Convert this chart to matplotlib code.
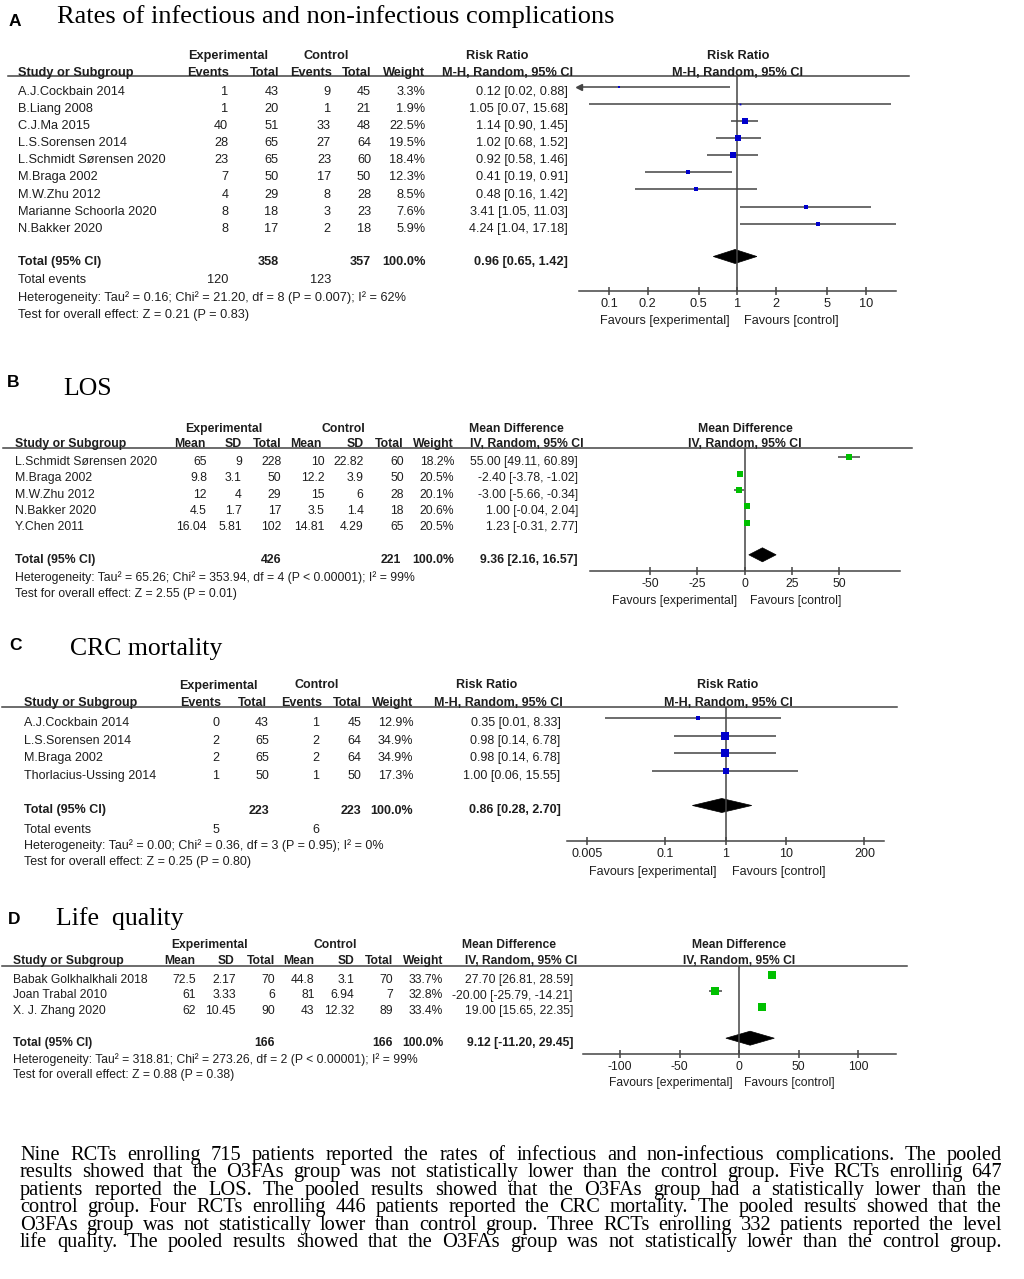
import numpy as np
import matplotlib
matplotlib.use("Agg")
import matplotlib.pyplot as plt
from matplotlib.patches import Polygon

# ---------------- data ----------------
# A: rates of infectious and non-infectious complications (risk ratio)
a_study = ["A.J.Cockbain 2014", "B.Liang 2008", "C.J.Ma 2015", "L.S.Sorensen 2014",
           "L.Schmidt Sørensen 2020", "M.Braga 2002", "M.W.Zhu 2012",
           "Marianne Schoorla 2020", "N.Bakker 2020"]
a_exp_ev = [1, 1, 40, 28, 23, 7, 4, 8, 8]
a_exp_n = [43, 20, 51, 65, 65, 50, 29, 18, 17]
a_ctl_ev = [9, 1, 33, 27, 23, 17, 8, 3, 2]
a_ctl_n = [45, 21, 48, 64, 60, 50, 28, 23, 18]
a_weight = [3.3, 1.9, 22.5, 19.5, 18.4, 12.3, 8.5, 7.6, 5.9]
a_est = [0.12, 1.05, 1.14, 1.02, 0.92, 0.41, 0.48, 3.41, 4.24]
a_lo = [0.02, 0.07, 0.90, 0.68, 0.58, 0.19, 0.16, 1.05, 1.04]
a_hi = [0.88, 15.68, 1.45, 1.52, 1.46, 0.91, 1.42, 11.03, 17.18]
a_total = [358, 357]
a_events = [120, 123]
a_pooled = [0.96, 0.65, 1.42]
a_het = "Heterogeneity: Tau² = 0.16; Chi² = 21.20, df = 8 (P = 0.007); I² = 62%"
a_test = "Test for overall effect: Z = 0.21 (P = 0.83)"
a_ticks = [0.1, 0.2, 0.5, 1, 2, 5, 10]

# B: LOS (mean difference)
b_study = ["L.Schmidt Sørensen 2020", "M.Braga 2002", "M.W.Zhu 2012", "N.Bakker 2020", "Y.Chen 2011"]
b_exp_mean = [65, 9.8, 12, 4.5, 16.04]
b_exp_sd = [9, 3.1, 4, 1.7, 5.81]
b_exp_n = [228, 50, 29, 17, 102]
b_ctl_mean = [10, 12.2, 15, 3.5, 14.81]
b_ctl_sd = [22.82, 3.9, 6, 1.4, 4.29]
b_ctl_n = [60, 50, 28, 18, 65]
b_weight = [18.2, 20.5, 20.1, 20.6, 20.5]
b_est = [55.00, -2.40, -3.00, 1.00, 1.23]
b_lo = [49.11, -3.78, -5.66, -0.04, -0.31]
b_hi = [60.89, -1.02, -0.34, 2.04, 2.77]
b_total = [426, 221]
b_pooled = [9.36, 2.16, 16.57]
b_het = "Heterogeneity: Tau² = 65.26; Chi² = 353.94, df = 4 (P < 0.00001); I² = 99%"
b_test = "Test for overall effect: Z = 2.55 (P = 0.01)"
b_ticks = [-50, -25, 0, 25, 50]

# C: CRC mortality (risk ratio)
c_study = ["A.J.Cockbain 2014", "L.S.Sorensen 2014", "M.Braga 2002", "Thorlacius-Ussing 2014"]
c_exp_ev = [0, 2, 2, 1]
c_exp_n = [43, 65, 65, 50]
c_ctl_ev = [1, 2, 2, 1]
c_ctl_n = [45, 64, 64, 50]
c_weight = [12.9, 34.9, 34.9, 17.3]
c_est = [0.35, 0.98, 0.98, 1.00]
c_lo = [0.01, 0.14, 0.14, 0.06]
c_hi = [8.33, 6.78, 6.78, 15.55]
c_total = [223, 223]
c_events = [5, 6]
c_pooled = [0.86, 0.28, 2.70]
c_het = "Heterogeneity: Tau² = 0.00; Chi² = 0.36, df = 3 (P = 0.95); I² = 0%"
c_test = "Test for overall effect: Z = 0.25 (P = 0.80)"
c_ticks = [0.005, 0.1, 1, 10, 200]

# D: life quality (mean difference)
d_study = ["Babak Golkhalkhali 2018", "Joan Trabal 2010", "X. J. Zhang 2020"]
d_exp_mean = [72.5, 61, 62]
d_exp_sd = [2.17, 3.33, 10.45]
d_exp_n = [70, 6, 90]
d_ctl_mean = [44.8, 81, 43]
d_ctl_sd = [3.1, 6.94, 12.32]
d_ctl_n = [70, 7, 89]
d_weight = [33.7, 32.8, 33.4]
d_est = [27.70, -20.00, 19.00]
d_lo = [26.81, -25.79, 15.65]
d_hi = [28.59, -14.21, 22.35]
d_total = [166, 166]
d_pooled = [9.12, -11.20, 29.45]
d_het = "Heterogeneity: Tau² = 318.81; Chi² = 273.26, df = 2 (P < 0.00001); I² = 99%"
d_test = "Test for overall effect: Z = 0.88 (P = 0.38)"
d_ticks = [-100, -50, 0, 50, 100]

summary_lines = [
    "Nine RCTs enrolling 715 patients reported the rates of infectious and non-infectious complications. The pooled",
    "results showed that the O3FAs  group was not statistically lower than the control group. Five RCTs enrolling 647",
    "patients reported the LOS. The pooled results showed that the O3FAs group had a statistically lower than the",
    "control group. Four  RCTs enrolling 446 patients reported the CRC mortality. The pooled results showed that the",
    "O3FAs group was not statistically lower than control group. Three RCTs enrolling 332 patients reported the level",
    "life quality.  The pooled results showed that the O3FAs group was not statistically lower than the control group.",
]

# ---------------- drawing ----------------
plt.rcParams['font.family'] = ['Liberation Sans', 'DejaVu Sans']
W, H = 1024, 1279
INK = '#1e1e1e'
RULE = '#444444'
BLUE = '#0000cc'
GREEN = '#00c000'

fig = plt.figure(figsize=(W / 100, H / 100), dpi=100)
bg = fig.add_axes([0, 0, 1, 1])
bg.set_xlim(0, W)
bg.set_ylim(H, 0)
bg.axis('off')


def txt(x, y, s, size, ha='left', bold=False):
    # y = visual middle of a line of digits, text is put on its baseline
    bg.text(x, y + 0.5 * size, s, ha=ha, va='baseline', fontsize=size, color=INK,
            fontweight='bold' if bold else 'normal')


def fmt(v):
    return f"{v:g}"


def table(size, study_x, col_x, hdr1, hdr2, rule_y, rule_x, ys, study, cols):
    for s, x in hdr1:
        txt(x, hdr1_y, s, size, ha='center', bold=True)
    txt(study_x, hdr2_y, "Study or Subgroup", size, bold=True)
    for s, x in hdr2:
        txt(x, hdr2_y, s, size, ha='right', bold=True)
    bg.plot(rule_x, [rule_y, rule_y], color=RULE, lw=1.1)
    for i, y in enumerate(ys):
        txt(study_x, y, study[i], size)
        for x, col in zip(col_x, cols):
            txt(x, y, col[i], size, ha='right')


def forest(x0, x1, top, axis_y, lim, log, ticks, ys, est, lo, hi, weight, color,
           tot_y, pooled, null, size, title, sub, hdr_x, fav_y, fav_x):
    ax = fig.add_axes([x0 / W, 1 - axis_y / H, (x1 - x0) / W, (axis_y - top) / H])
    ax.patch.set_alpha(0)
    if log:
        ax.set_xscale('log')
    ax.set_xlim(*lim)
    ax.set_ylim(axis_y, top)
    for s in ['top', 'right', 'left']:
        ax.spines[s].set_visible(False)
    ax.spines['bottom'].set_color(RULE)
    ax.spines['bottom'].set_linewidth(1.1)
    ax.set_yticks([])
    ax.set_xticks(ticks)
    ax.set_xticklabels([fmt(t) for t in ticks])
    ax.minorticks_off()
    ax.tick_params(axis='x', direction='inout', length=5.5, width=1.1, colors=RULE,
                   labelcolor=INK, labelsize=size, pad=2.5)
    ax.axvline(null, color=RULE, lw=1.1)
    for y, e, l, h, w in zip(ys, est, lo, hi, weight):
        y = y - 3.5
        ax.plot([max(l, lim[0]), min(h, lim[1])], [y, y], color=RULE, lw=1.1,
                solid_capstyle='butt')
        if l < lim[0]:
            ax.plot(lim[0], y, marker='<', ms=4, color=RULE, clip_on=False)
        side = 1.3 * np.sqrt(w)
        ax.plot(e, y, marker='s', ms=side * 0.72, color=color, mew=0, clip_on=False)
    e, l, h = pooled
    yd = tot_y - 3.5
    ax.add_patch(Polygon([(l, yd), (e, yd - 7), (h, yd), (e, yd + 7)], closed=True,
                         facecolor='black', edgecolor='black', lw=0.5))
    txt(hdr_x, hdr1_y, title, size, ha='center', bold=True)
    txt(hdr_x, hdr2_y, sub, size, ha='center', bold=True)
    txt(fav_x[0], fav_y, "Favours [experimental]", size, ha='center')
    txt(fav_x[1], fav_y, "Favours [control]", size, ha='center')


def heading(letter, lx, ly, title, tx, ty, tsize=18.5):
    bg.text(lx, ly, letter, ha='center', va='baseline', fontsize=12.5,
            fontweight='bold', color='black')
    bg.text(tx, ty, title, ha='left', va='baseline', fontsize=tsize,
            family=['Liberation Serif', 'DejaVu Serif'], color='black')


def rr_cols(ev1, n1, ev2, n2, wt, est, lo, hi):
    return [[str(v) for v in ev1], [str(v) for v in n1], [str(v) for v in ev2],
            [str(v) for v in n2], [f"{w:.1f}%" for w in wt],
            [f"{e:.2f} [{l:.2f}, {h:.2f}]" for e, l, h in zip(est, lo, hi)]]


def md_cols(m1, s1, n1, m2, s2, n2, wt, est, lo, hi):
    return [[fmt(v) for v in m1], [fmt(v) for v in s1], [str(v) for v in n1],
            [fmt(v) for v in m2], [fmt(v) for v in s2], [str(v) for v in n2],
            [f"{w:.1f}%" for w in wt],
            [f"{e:.2f} [{l:.2f}, {h:.2f}]" for e, l, h in zip(est, lo, hi)]]


# ---- panel A ----
size = 9.2
heading("A", 15, 26, "Rates of infectious and non-infectious complications", 57, 23, 19)
hdr1_y, hdr2_y = 54, 71
ys = [90 + 17.16 * i for i in range(len(a_study))]
col_x = [228.3, 278.6, 331, 371, 425.5, 568]
table(size, 18.5, col_x,
      [("Experimental", 228.5), ("Control", 326), ("Risk Ratio", 497)],
      [("Events", 229.4), ("Total", 279.3), ("Events", 332), ("Total", 371.8),
       ("Weight", 425.5), ("M-H, Random, 95% CI", 572.7)],
      76, [8, 909], ys, a_study,
      rr_cols(a_exp_ev, a_exp_n, a_ctl_ev, a_ctl_n, a_weight, a_est, a_lo, a_hi))
txt(18.5, 260, "Total (95% CI)", size, bold=True)
txt(col_x[1], 260, str(a_total[0]), size, ha='right', bold=True)
txt(col_x[3], 260, str(a_total[1]), size, ha='right', bold=True)
txt(col_x[4], 260, "100.0%", size, ha='right', bold=True)
txt(col_x[5], 260, f"{a_pooled[0]:.2f} [{a_pooled[1]:.2f}, {a_pooled[2]:.2f}]", size, ha='right', bold=True)
txt(18.5, 278.7, "Total events", size)
txt(col_x[0], 278.7, str(a_events[0]), size, ha='right')
txt(col_x[2], 278.7, str(a_events[1]), size, ha='right')
txt(18.5, 296, a_het, size)
txt(18.5, 313, a_test, size)
forest(579, 896, 76, 290.7, (0.0585, 17.2), True, a_ticks, ys, a_est, a_lo, a_hi,
       a_weight, BLUE, 260, a_pooled, 1, size, "Risk Ratio", "M-H, Random, 95% CI",
       738, 319, (665, 791))

# ---- panel B ----
size = 8.8
heading("B", 13.4, 387.3, "LOS", 63, 395)
hdr1_y, hdr2_y = 427.3, 442.7
ys = [460.7 + 16.33 * i for i in range(len(b_study))]
col_x = [207, 241.9, 281.3, 324.5, 363.6, 403.8, 454.3, 577.9]
table(size, 15.3, col_x,
      [("Experimental", 224), ("Control", 343.5), ("Mean Difference", 516.7)],
      [("Mean", 205.5), ("SD", 241.9), ("Total", 281.3), ("Mean", 321.5), ("SD", 363.6),
       ("Total", 403.8), ("Weight", 453.5), ("IV, Random, 95% CI", 583.6)],
      448.3, [3, 911.7], ys, b_study,
      md_cols(b_exp_mean, b_exp_sd, b_exp_n, b_ctl_mean, b_ctl_sd, b_ctl_n,
              b_weight, b_est, b_lo, b_hi))
txt(15.3, 558.3, "Total (95% CI)", size, bold=True)
txt(col_x[2], 558.3, str(b_total[0]), size, ha='right', bold=True)
txt(col_x[5] - 3, 558.3, str(b_total[1]), size, ha='right', bold=True)
txt(col_x[6], 558.3, "100.0%", size, ha='right', bold=True)
txt(col_x[7], 558.3, f"{b_pooled[0]:.2f} [{b_pooled[1]:.2f}, {b_pooled[2]:.2f}]", size, ha='right', bold=True)
txt(15.3, 576.7, b_het, size)
txt(15.3, 592.7, b_test, size)
forest(590, 900, 448.3, 571, (-81.7, 82.0), False, b_ticks, ys, b_est, b_lo, b_hi,
       b_weight, GREEN, 558.3, b_pooled, 0, size, "Mean Difference", "IV, Random, 95% CI",
       745, 599.3, (675, 796))

# ---- panel C ----
size = 9.0
heading("C", 15.5, 650, "CRC mortality", 70, 655)
hdr1_y, hdr2_y = 684, 701.7
ys = [721.7 + 17.53 * i for i in range(len(c_study))]
col_x = [219.4, 269, 318.9, 361.5, 413.2, 560.5]
table(size, 24, col_x,
      [("Experimental", 218.8), ("Control", 316.3), ("Risk Ratio", 486.5)],
      [("Events", 220.9), ("Total", 267), ("Events", 322.6), ("Total", 361.5),
       ("Weight", 413.2), ("M-H, Random, 95% CI", 562.3)],
      707.3, [2, 896.7], ys, c_study,
      rr_cols(c_exp_ev, c_exp_n, c_ctl_ev, c_ctl_n, c_weight, c_est, c_lo, c_hi))
txt(24, 809, "Total (95% CI)", size, bold=True)
txt(col_x[1], 809, str(c_total[0]), size, ha='right', bold=True)
txt(col_x[3], 809, str(c_total[1]), size, ha='right', bold=True)
txt(col_x[4], 809, "100.0%", size, ha='right', bold=True)
txt(col_x[5], 809, f"{c_pooled[0]:.2f} [{c_pooled[1]:.2f}, {c_pooled[2]:.2f}]", size, ha='right', bold=True)
txt(24, 828.3, "Total events", size)
txt(col_x[0], 828.3, str(c_events[0]), size, ha='right')
txt(col_x[2], 828.3, str(c_events[1]), size, ha='right')
txt(24, 845, c_het, size)
txt(24, 861, c_test, size)
forest(567.3, 884.3, 707.3, 840.7, (0.00236, 426), True, c_ticks, ys, c_est, c_lo, c_hi,
       c_weight, BLUE, 809, c_pooled, 1, size, "Risk Ratio", "M-H, Random, 95% CI",
       728, 870, (653, 778.7))

# ---- panel D ----
size = 8.7
heading("D", 14.4, 924, "Life  quality", 55.5, 925)
hdr1_y, hdr2_y = 943.3, 960
ys = [978.3 + 15.85 * i for i in range(len(d_study))]
col_x = [196, 236.1, 274.8, 314.6, 354, 393, 443.2, 572.9]
table(size, 13.4, col_x,
      [("Experimental", 209.5), ("Control", 334.9), ("Mean Difference", 508.6)],
      [("Mean", 195.2), ("SD", 234.2), ("Total", 274.8), ("Mean", 313.8), ("SD", 354),
       ("Total", 393), ("Weight", 443.2), ("IV, Random, 95% CI", 577.1)],
      966, [2, 906.7], ys, d_study,
      md_cols(d_exp_mean, d_exp_sd, d_exp_n, d_ctl_mean, d_ctl_sd, d_ctl_n,
              d_weight, d_est, d_lo, d_hi))
txt(13.4, 1041.7, "Total (95% CI)", size, bold=True)
txt(col_x[2], 1041.7, str(d_total[0]), size, ha='right', bold=True)
txt(col_x[5], 1041.7, str(d_total[1]), size, ha='right', bold=True)
txt(col_x[6], 1041.7, "100.0%", size, ha='right', bold=True)
txt(col_x[7], 1041.7, f"{d_pooled[0]:.2f} [{d_pooled[1]:.2f}, {d_pooled[2]:.2f}]", size, ha='right', bold=True)
txt(13.4, 1058.3, d_het, size)
txt(13.4, 1074, d_test, size)
forest(583.3, 896, 966, 1054, (-131, 131.7), False, d_ticks, ys, d_est, d_lo, d_hi,
       d_weight, GREEN, 1041.7, d_pooled, 0, size, "Mean Difference", "IV, Random, 95% CI",
       739, 1081.7, (670.7, 789.3))

# ---- summary paragraph (justified between x=20 and x=1002) ----
renderer = fig.canvas.get_renderer()
for i, line in enumerate(summary_lines):
    yb = 1160 + 17.4 * i
    words = line.split()
    items = [bg.text(0, yb, w, fontsize=14.7, va='baseline', color='black',
                     family=['Liberation Serif', 'DejaVu Serif']) for w in words]
    widths = [t.get_window_extent(renderer).width for t in items]
    gap = (1002 - 20 - sum(widths)) / (len(words) - 1)
    x = 20
    for t, w in zip(items, widths):
        t.set_x(x)
        x += w + gap

fig.savefig("out.png", dpi=100)
